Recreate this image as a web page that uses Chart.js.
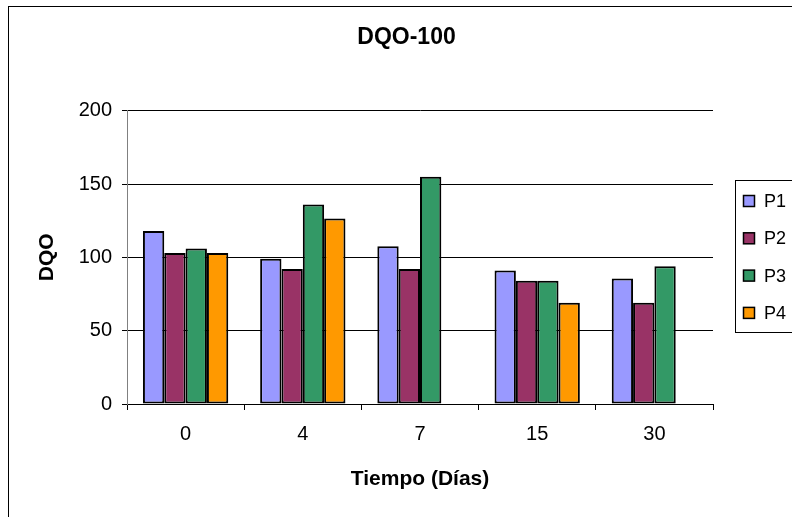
<!DOCTYPE html>
<html>
<head>
<meta charset="utf-8">
<script src="https://cdn.jsdelivr.net/npm/chart.js@4"></script>
<style>
html,body{margin:0;padding:0;background:#fff;}
#wrap{width:792px;height:517px;position:relative;}
</style>
</head>
<body>
<div id="wrap"><canvas id="c" width="792" height="517"></canvas></div>
<script>
const chartTitle = 'DQO-100';
const xAxisTitle = 'Tiempo (Días)';
const yAxisTitle = 'DQO';
const categories = ['0', '4', '7', '15', '30'];
const seriesNames = ['P1', 'P2', 'P3', 'P4'];
const p1 = [118, 99, 107.5, 91, 85.5];
const p2 = [103, 92, 92, 84, 69];
const p3 = [106, 136, 155, 84, 94];
const p4 = [103, 126.5, null, 69, null];
const colors = ['#9999FF', '#993366', '#339966', '#FF9900'];
const yMin = 0, yMax = 200, yStep = 50;

const FONT = "'Liberation Sans', Arial, sans-serif";

const framePlugin = {
  id: 'frame',
  beforeDraw(chart) {
    const ctx = chart.ctx;
    ctx.save();
    ctx.fillStyle = '#fff';
    ctx.fillRect(0, 0, chart.width, chart.height);
    ctx.strokeStyle = '#000';
    ctx.lineWidth = 1;
    ctx.strokeRect(8.5, 6.5, 900, 700);
    ctx.restore();
  },
  afterDraw(chart) {
    const ctx = chart.ctx;
    ctx.save();
    // title
    ctx.fillStyle = '#000';
    ctx.font = 'bold 23px ' + FONT;
    ctx.textAlign = 'center';
    ctx.textBaseline = 'middle';
    ctx.fillText(chartTitle, 406.5, 38);
    // legend
    const bx = 735.5, by = 180.5, bw = 100, bh = 152;
    ctx.fillStyle = '#fff';
    ctx.fillRect(bx, by, bw, bh);
    ctx.strokeStyle = '#000';
    ctx.lineWidth = 1;
    ctx.strokeRect(bx, by, bw, bh);
    ctx.font = '18px ' + FONT;
    ctx.textAlign = 'left';
    chart.data.datasets.forEach((ds, i) => {
      const cy = 201 + i * 37.3;
      ctx.fillStyle = ds.backgroundColor;
      ctx.fillRect(743.5, cy - 5.5, 11, 11);
      ctx.strokeStyle = '#000';
      ctx.lineWidth = 1.5;
      ctx.strokeRect(743.5, cy - 5.5, 11, 11);
      ctx.fillStyle = '#000';
      ctx.fillText(ds.label, 764, cy + 1);
    });
    ctx.restore();
  }
};

const seriesValues = [p1, p2, p3, p4];
const datasets = seriesNames.map((name, i) => ({
  label: name,
  data: seriesValues[i],
  backgroundColor: colors[i],
  borderColor: '#000',
  borderWidth: 2,
  borderSkipped: false,
  categoryPercentage: 0.728,
  barPercentage: 1.0
}));

new Chart(document.getElementById('c'), {
  type: 'bar',
  data: { labels: categories, datasets },
  options: {
    responsive: false,
    animation: false,
    layout: { padding: { left: 0, right: 79, top: 110.7, bottom: 0 } },
    plugins: {
      legend: { display: false },
      title: { display: false },
      tooltip: { enabled: false }
    },
    scales: {
      x: {
        offset: true,
        grid: { display: true, drawOnChartArea: false, offset: true, tickLength: 6, color: '#000', lineWidth: 1 },
        border: { display: true, color: '#000', width: 1 },
        ticks: { color: '#000', font: { family: FONT, size: 20 }, padding: 12, maxRotation: 0 },
        title: { display: true, text: xAxisTitle, color: '#000', font: { family: FONT, size: 21, weight: 'bold' }, padding: { top: 0, bottom: 25 } },
        afterFit(scale) { scale.height = 113; }
      },
      y: {
        min: yMin, max: yMax,
        ticks: { stepSize: yStep, color: '#000', font: { family: FONT, size: 20 }, padding: 10 },
        grid: { color: '#000', lineWidth: 1, tickLength: 5 },
        border: { display: true, color: '#808080', width: 1 },
        title: { display: true, text: yAxisTitle, color: '#000', font: { family: FONT, size: 21, weight: 'bold' }, padding: { top: 35, bottom: 0 } },
        afterFit(scale) { scale.width = 127; }
      }
    }
  },
  plugins: [framePlugin]
});
</script>
</body>
</html>
